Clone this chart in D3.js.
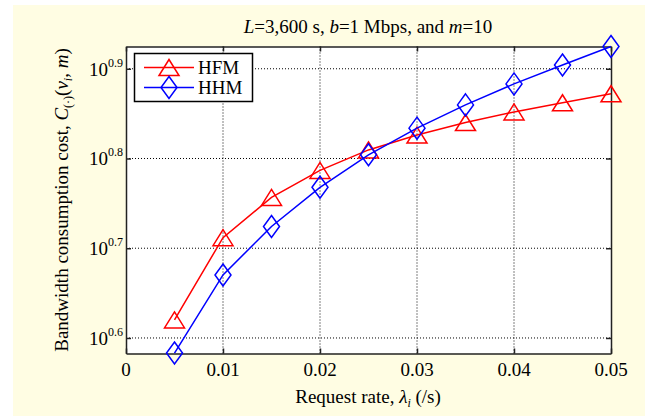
<!DOCTYPE html>
<html>
<head>
<meta charset="utf-8">
<script src="https://cdn.jsdelivr.net/npm/d3@7"></script>
<style>
  body { margin: 0; background: #fff; }
  svg { display: block; font-family: "Liberation Serif", "Times New Roman", serif; }
</style>
</head>
<body>
<div class="viz"></div>
<script>
// request rate (/s)
var rates = [0.005, 0.01, 0.015, 0.02, 0.025, 0.03, 0.035, 0.04, 0.045, 0.05];
// bandwidth consumption cost
var hfm = [4.17, 5.15, 5.71, 6.12, 6.45, 6.70, 6.92, 7.11, 7.28, 7.45];
var hhm = [3.83, 4.68, 5.30, 5.86, 6.37, 6.82, 7.24, 7.64, 8.02, 8.41];
var xTicks = [0, 0.01, 0.02, 0.03, 0.04, 0.05];
var yTickExps = ["0.6", "0.7", "0.8", "0.9"];

var width = 645, height = 416;
var margin = {top: 46.5, right: 34, bottom: 62.5, left: 126};
var fs = 19, fsSmall = 12;

var svg = d3.select('.viz').append('svg')
    .attr('width', width)
    .attr('height', height);

svg.append('rect')
    .attr('x', 13).attr('y', 5)
    .attr('width', width - 13).attr('height', height - 5)
    .attr('fill', '#fffde3');

var x = d3.scaleLinear()
    .domain([0, 0.05])
    .range([margin.left, width - margin.right]);

var y = d3.scaleLog()
    .domain([Math.pow(10, 0.5827), 8.41])
    .range([height - margin.bottom, margin.top]);

var x0 = x.range()[0], x1 = x.range()[1];
var y0 = y.range()[0], y1 = y.range()[1];

svg.append('rect')
    .attr('x', x0).attr('y', y1)
    .attr('width', x1 - x0).attr('height', y0 - y1)
    .attr('fill', '#fff');

// grid
var g = svg.append('g');
g.selectAll('.vgrid')
    .data(xTicks.slice(1, -1))
    .enter().append('line')
    .attr('x1', d => x(d)).attr('x2', d => x(d))
    .attr('y1', y0).attr('y2', y1)
    .attr('stroke', '#000').attr('stroke-width', 1)
    .attr('stroke-dasharray', '1,2');

g.selectAll('.hgrid')
    .data(yTickExps)
    .enter().append('line')
    .attr('x1', x0).attr('x2', x1)
    .attr('y1', d => y(Math.pow(10, +d))).attr('y2', d => y(Math.pow(10, +d)))
    .attr('stroke', '#000').attr('stroke-width', 1)
    .attr('stroke-dasharray', '1,2');

// axes with inward ticks on all four sides
var axB = svg.append('g').attr('transform', 'translate(0,' + y0 + ')')
    .call(d3.axisBottom(x).tickValues(xTicks).tickSizeInner(-5).tickSizeOuter(0).tickFormat(''));
var axT = svg.append('g').attr('transform', 'translate(0,' + y1 + ')')
    .call(d3.axisTop(x).tickValues(xTicks).tickSizeInner(-5).tickSizeOuter(0).tickFormat(''));
var yVals = yTickExps.map(e => Math.pow(10, +e));
var axL = svg.append('g').attr('transform', 'translate(' + x0 + ',0)')
    .call(d3.axisLeft(y).tickValues(yVals).tickSizeInner(-5).tickSizeOuter(0).tickFormat(''));
var axR = svg.append('g').attr('transform', 'translate(' + x1 + ',0)')
    .call(d3.axisRight(y).tickValues(yVals).tickSizeInner(-5).tickSizeOuter(0).tickFormat(''));
[axB, axT, axL, axR].forEach(function (a) {
    a.selectAll('path, line').attr('stroke', '#222').attr('stroke-width', 1.5);
});

// tick labels
svg.selectAll('.xlab')
    .data(xTicks)
    .enter().append('text')
    .attr('x', d => x(d)).attr('y', y0 + 22)
    .attr('text-anchor', 'middle')
    .attr('font-size', fs)
    .text(d => d === 0 ? '0' : d3.format('.2f')(d));

var ylab = svg.selectAll('.ylab')
    .data(yTickExps)
    .enter().append('text')
    .attr('x', x0 - 3).attr('y', d => y(Math.pow(10, +d)) + 7)
    .attr('text-anchor', 'end')
    .attr('font-size', fs);
ylab.append('tspan').text('10');
ylab.append('tspan').attr('font-size', fsSmall).attr('dy', -9).text(d => d);

// title
var title = svg.append('text')
    .attr('x', 368).attr('y', 33)
    .attr('text-anchor', 'middle')
    .attr('font-size', fs);
title.append('tspan').attr('font-style', 'italic').text('L');
title.append('tspan').text('=3,600 s, ');
title.append('tspan').attr('font-style', 'italic').text('b');
title.append('tspan').text('=1 Mbps, and ');
title.append('tspan').attr('font-style', 'italic').text('m');
title.append('tspan').text('=10');

// x label
var xl = svg.append('text')
    .attr('x', 368).attr('y', 403)
    .attr('text-anchor', 'middle')
    .attr('font-size', fs);
xl.append('tspan').text('Request rate, ');
xl.append('tspan').attr('font-style', 'italic').text('λ');
xl.append('tspan').attr('font-style', 'italic').attr('font-size', fsSmall).attr('dy', 4).text('i');
xl.append('tspan').attr('dy', -4).text(' (/s)');

// y label
var yl = svg.append('text')
    .attr('transform', 'translate(68,' + ((y0 + y1) / 2) + ') rotate(-90)')
    .attr('text-anchor', 'middle')
    .attr('font-size', fs);
yl.append('tspan').text('Bandwidth consumption cost, ');
yl.append('tspan').attr('font-style', 'italic').text('C');
yl.append('tspan').attr('font-size', fsSmall).attr('dy', 4).text('(·)');
yl.append('tspan').attr('dy', -4).text('(');
yl.append('tspan').attr('font-style', 'italic').text('v');
yl.append('tspan').attr('font-style', 'italic').attr('font-size', fsSmall).attr('dy', 4).text('i');
yl.append('tspan').attr('dy', -4).text(', ');
yl.append('tspan').attr('font-style', 'italic').text('m');
yl.append('tspan').text(')');

// series
function triangle(cx, cy) {
    return 'M' + cx + ',' + (cy - 8) + 'L' + (cx + 10) + ',' + (cy + 8) + 'L' + (cx - 10) + ',' + (cy + 8) + 'Z';
}
function diamond(cx, cy) {
    return 'M' + cx + ',' + (cy - 11) + 'L' + (cx + 8) + ',' + cy + 'L' + cx + ',' + (cy + 11) + 'L' + (cx - 8) + ',' + cy + 'Z';
}

var series = [
    {name: 'HFM', values: hfm, color: '#ff0000', marker: triangle},
    {name: 'HHM', values: hhm, color: '#0000ff', marker: diamond}
];

var line = d3.line()
    .x(d => x(d[0]))
    .y(d => y(d[1]));

series.forEach(function (s) {
    var pts = rates.map((r, i) => [r, s.values[i]]);
    svg.append('path')
        .attr('d', line(pts))
        .attr('fill', 'none')
        .attr('stroke', s.color)
        .attr('stroke-width', 1.5);
    svg.selectAll(null)
        .data(pts)
        .enter().append('path')
        .attr('d', d => s.marker(x(d[0]), y(d[1])))
        .attr('fill', 'none')
        .attr('stroke', s.color)
        .attr('stroke-width', 1.5);
});

// legend
var lg = svg.append('g');
lg.append('rect')
    .attr('x', 134.5).attr('y', 53.5)
    .attr('width', 118).attr('height', 48)
    .attr('fill', '#fff')
    .attr('stroke', '#000').attr('stroke-width', 1.5);
series.forEach(function (s, i) {
    var ly = 67.5 + i * 20;
    lg.append('line')
        .attr('x1', 144).attr('x2', 194)
        .attr('y1', ly).attr('y2', ly)
        .attr('stroke', s.color).attr('stroke-width', 1.5);
    lg.append('path')
        .attr('d', s.marker(169, ly))
        .attr('fill', 'none')
        .attr('stroke', s.color).attr('stroke-width', 1.5);
    lg.append('text')
        .attr('x', 198).attr('y', ly + 6.5)
        .attr('font-size', 19)
        .text(s.name);
});
</script>
</body>
</html>
